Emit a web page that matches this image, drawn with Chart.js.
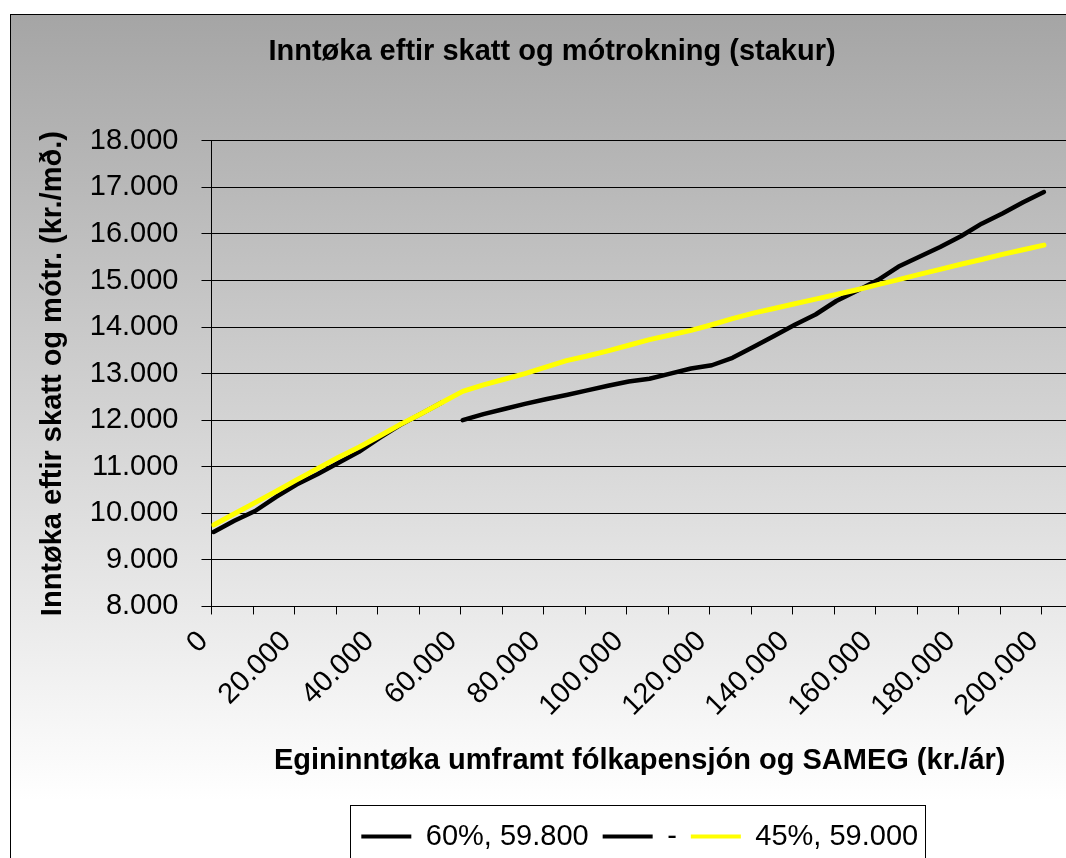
<!DOCTYPE html>
<html lang="fo">
<head>
<meta charset="utf-8">
<title>Inntøka eftir skatt og mótrokning (stakur)</title>
<script src="https://cdn.jsdelivr.net/npm/chart.js@4.4.1/dist/chart.umd.min.js"></script>
<style>
  html, body {
    margin: 0;
    padding: 0;
    width: 1066px;
    height: 858px;
    overflow: hidden;
    background: #ffffff;
  }
  #frame {
    position: absolute;
    left: 10px;
    top: 14px;
    width: 1077px;
    height: 870px;
    box-sizing: border-box;
    border: 1px solid #000000;
    background: linear-gradient(to bottom, #a5a5a5 0px, #ffffff 786px);
  }
  #chart {
    display: block;
  }
</style>
</head>
<body>
<div id="frame"><canvas id="chart" width="1075" height="868"></canvas></div>
<script>
const TITLE = "Inntøka eftir skatt og mótrokning (stakur)";
const X_TITLE = "Egininntøka umframt fólkapensjón og SAMEG (kr./ár)";
const Y_TITLE = "Inntøka eftir skatt og mótr. (kr./mð.)";

// income per year (kr.), read every 5.000
const INCOME = [
  0, 5000, 10000, 15000, 20000, 25000, 30000, 35000, 40000, 45000,
  50000, 55000, 60000, 65000, 70000, 75000, 80000, 85000, 90000, 95000,
  100000, 105000, 110000, 115000, 120000, 125000, 130000, 135000, 140000, 145000,
  150000, 155000, 160000, 165000, 170000, 175000, 180000, 185000, 190000, 195000,
  200000
];

const SERIES_LABELS = ["60%, 59.800", "-", "45%, 59.000"];
const SERIES_COLORS = ["#000000", "#000000", "#ffff00"];
const SERIES_WIDTHS = [4.5, 4.5, 5];

// net income per month (kr.)
const NET_60 = [
  9600, 9840, 10050, 10350, 10620, 10840, 11080, 11320, 11620, 11900,
  12140, 12380, null, null, null, null, null, null, null, null,
  null, null, null, null, null, null, null, null, null, null,
  null, null, null, null, null, null, null, null, null, null,
  null
];
const NET_DASH = [
  null, null, null, null, null, null, null, null, null, null,
  null, null, 12000, 12130, 12240, 12350, 12450, 12540, 12640, 12740,
  12830, 12890, 13000, 13110, 13180, 13340, 13570, 13810, 14050, 14270,
  14560, 14780, 15010, 15300, 15510, 15720, 15950, 16220, 16440, 16680,
  16900
];
const NET_45 = [
  9750, 9990, 10230, 10470, 10720, 10960, 11200, 11420, 11660, 11910,
  12140, 12380, 12620, 12760, 12880, 13000, 13140, 13280, 13380, 13490,
  13610, 13730, 13830, 13930, 14050, 14180, 14300, 14400, 14500, 14600,
  14700, 14800, 14910, 15020, 15130, 15240, 15350, 15450, 15560, 15660,
  15760
];

const Y_MIN = 8000;
const Y_MAX = 18000;
const Y_STEP = 1000;
const X_BIN = 1000;          // one category per 1.000 kr. like the sheet
const X_TICK_STEP = 10000;
const X_LABEL_STEP = 20000;
const X_LAST_TICK = 200000;
const X_MAX = 205800;

const FONT = "'Liberation Sans', Arial, Helvetica, sans-serif";

function formatThousands(value) {
  return String(Math.round(value)).replace(/\B(?=(\d{3})+(?!\d))/g, ".");
}

function toPoints(values) {
  return INCOME.map((x, i) => ({ x, y: values[i] }));
}

// box drawn round the legend items, as in the sheet
const legendFrame = {
  id: "legendFrame",
  beforeDraw(chart) {
    const boxes = chart.legend && chart.legend.legendHitBoxes;
    if (!boxes || !boxes.length) {
      return;
    }
    const left = Math.round(Math.min(...boxes.map((b) => b.left)) - 11);
    const right = Math.round(Math.max(...boxes.map((b) => b.left + b.width)) + 7);
    const mid = boxes[0].top + boxes[0].height / 2;
    const top = Math.round(mid - 32);
    const ctx = chart.ctx;
    ctx.save();
    ctx.fillStyle = "#ffffff";
    ctx.fillRect(left, top, right - left, 64);
    ctx.strokeStyle = "#000000";
    ctx.lineWidth = 1;
    ctx.strokeRect(left + 0.5, top + 0.5, right - left, 64);
    ctx.restore();
  }
};

function buildChart() {
  Chart.defaults.font.family = FONT;
  Chart.defaults.color = "#000000";

  const seriesValues = [NET_60, NET_DASH, NET_45];

  new Chart(document.getElementById("chart"), {
    type: "line",
    data: {
      datasets: seriesValues.map((values, i) => ({
        label: SERIES_LABELS[i],
        data: toPoints(values),
        borderColor: SERIES_COLORS[i],
        backgroundColor: SERIES_COLORS[i],
        borderWidth: SERIES_WIDTHS[i],
        pointRadius: 0,
        tension: 0,
        spanGaps: false,
        borderJoinStyle: "round",
        borderCapStyle: "round",
        order: i === 2 ? 0 : 1
      }))
    },
    options: {
      responsive: false,
      animation: false,
      layout: {
        padding: { left: 25, right: 18, top: 0, bottom: 22 }
      },
      plugins: {
        title: {
          display: true,
          text: TITLE,
          color: "#000000",
          font: { size: 29, weight: "bold" },
          padding: { top: 20, bottom: 71 }
        },
        legend: {
          position: "bottom",
          fullSize: false,
          labels: {
            color: "#000000",
            font: { size: 29 },
            boxWidth: 50,
            boxHeight: 4,
            padding: 14,
            sort: (a, b) => a.datasetIndex - b.datasetIndex,
            generateLabels(chart) {
              return Chart.defaults.plugins.legend.labels.generateLabels(chart).map((item) => ({
                ...item,
                lineWidth: 0
              }));
            }
          }
        },
        tooltip: { enabled: false }
      },
      scales: {
        x: {
          type: "linear",
          min: -X_BIN / 2,
          max: X_MAX,
          afterBuildTicks(scale) {
            const ticks = [];
            for (let v = 0; v <= X_LAST_TICK; v += X_TICK_STEP) {
              ticks.push({ value: v - X_BIN / 2 });
            }
            scale.ticks = ticks;
          },
          ticks: {
            autoSkip: false,
            minRotation: 45,
            maxRotation: 45,
            padding: 10,
            labelOffset: -8,
            color: "#000000",
            font: { size: 29 },
            callback(value) {
              const v = value + X_BIN / 2;
              return v % X_LABEL_STEP === 0 ? formatThousands(v) : "";
            }
          },
          grid: {
            drawOnChartArea: false,
            drawTicks: true,
            tickLength: 8,
            color: "#000000"
          },
          border: { color: "#000000", width: 1 },
          title: {
            display: true,
            text: X_TITLE,
            color: "#000000",
            font: { size: 29, weight: "bold" },
            padding: { top: 10, bottom: 30 }
          }
        },
        y: {
          min: Y_MIN,
          max: Y_MAX,
          ticks: {
            stepSize: Y_STEP,
            padding: 23,
            color: "#000000",
            font: { size: 29 },
            callback: (value) => formatThousands(value)
          },
          grid: {
            color: "#000000",
            lineWidth: 1,
            tickLength: 10
          },
          border: { color: "#000000", width: 1 },
          title: {
            display: true,
            text: Y_TITLE,
            color: "#000000",
            font: { size: 29, weight: "bold" },
            padding: { top: 0, bottom: -4 }
          }
        }
      }
    },
    plugins: [legendFrame]
  });
}

window.addEventListener("load", buildChart);
</script>
</body>
</html>
